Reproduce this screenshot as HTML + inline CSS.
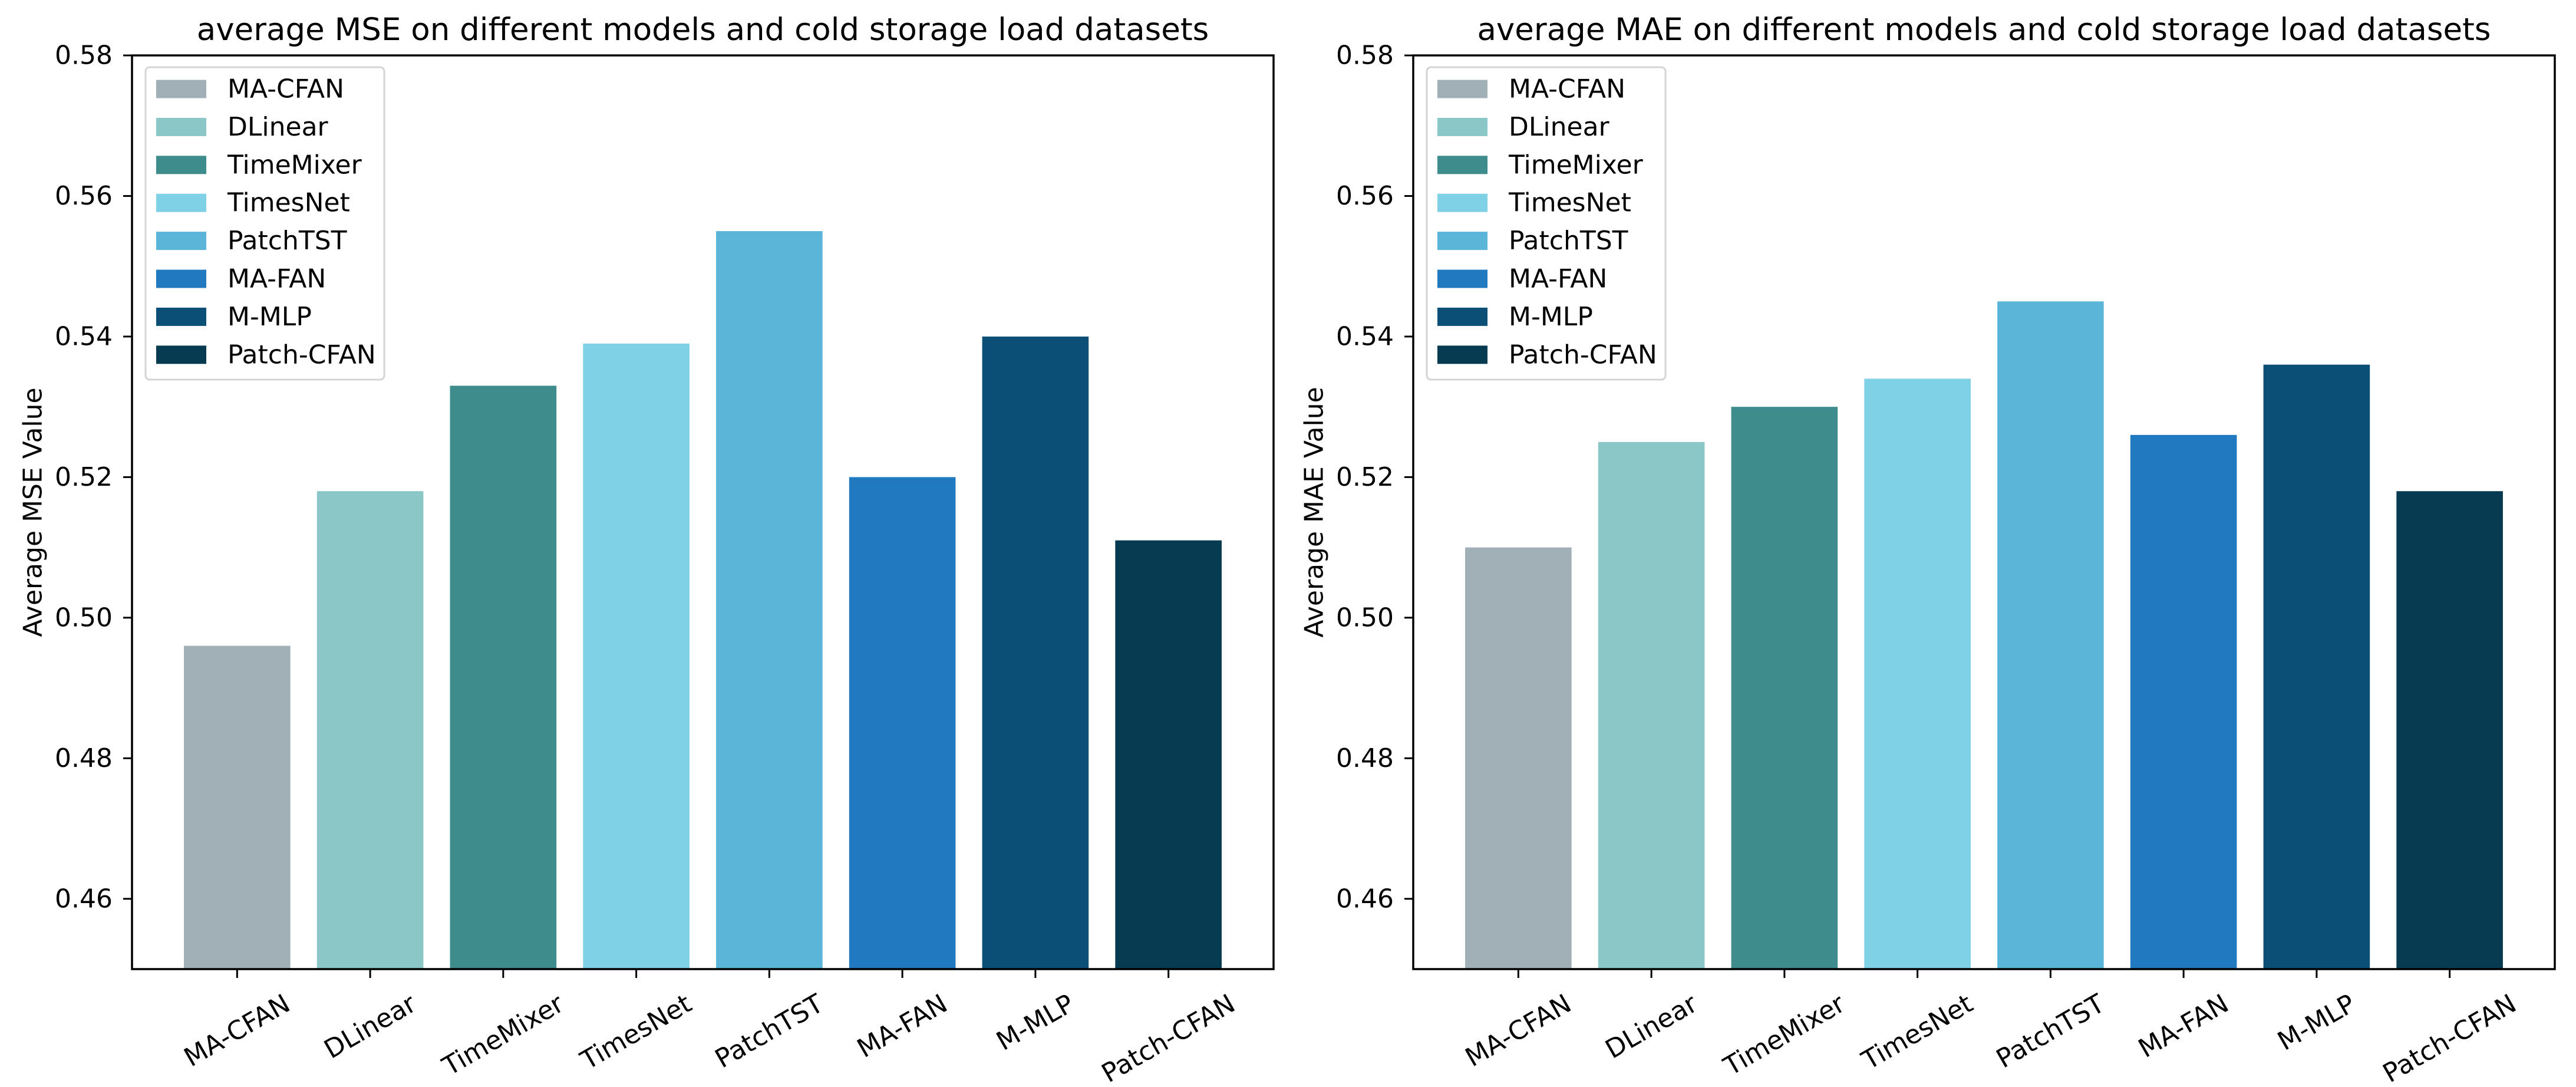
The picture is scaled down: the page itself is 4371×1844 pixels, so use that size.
<!DOCTYPE html>
<html><head><meta charset="utf-8"><style>
html,body{margin:0;padding:0;background:#fff;}
svg{display:block;font-family:"DejaVu Sans","Liberation Sans",sans-serif;}
</style></head><body>
<svg id="fig" width="4371" height="1844" viewBox="0 0 4371 1844" xmlns="http://www.w3.org/2000/svg">
<rect width="4371" height="1844" fill="#fff"/>
</svg>
<script>
const categories = ["MA-CFAN","DLinear","TimeMixer","TimesNet","PatchTST","MA-FAN","M-MLP","Patch-CFAN"];
const mseValues = [0.496,0.518,0.533,0.539,0.555,0.520,0.540,0.511];
const maeValues = [0.510,0.525,0.530,0.534,0.545,0.526,0.536,0.518];
const barColors = ["#a1b0b7","#8cc7c8","#3f8c8c","#7fd1e6","#5bb5d9","#217abf","#0b4f76","#073b51"];
const yTicks = [0.46,0.48,0.50,0.52,0.54,0.56,0.58];
const yMin = 0.45, yMax = 0.58;

const NS = "http://www.w3.org/2000/svg";
const svg = document.getElementById("fig");
function mk(tag, attrs, parent){const e=document.createElementNS(NS,tag);for(const k in attrs)e.setAttribute(k,attrs[k]);(parent||svg).appendChild(e);return e;}

function drawPanel(offset, values, title, ylabel, key){
  const L=224+offset, R=2161+offset, T=94, B=1644;
  const g = mk("g",{});
  
  
  const n = categories.length;
  const lo = -0.4 - 0.05*(n-0.2), hi = n-1+0.4 + 0.05*(n-0.2);
  const xs = i => L + (i - lo)/(hi-lo)*(R-L);
  const ys = v => B - (v - yMin)/(yMax-yMin)*(B-T);
  const bw = 0.8/(hi-lo)*(R-L);
  // bars
  values.forEach((v,i)=>{
    const r = mk("rect",{x:xs(i)-bw/2,y:ys(v),width:bw,height:B-ys(v),fill:barColors[i]},g);
    
    
  });
  // spines
  const frame = mk("rect",{x:L,y:T,width:R-L,height:B-T,fill:"none",stroke:"#000","stroke-width":3.5},g);
  
  
  // y ticks
  yTicks.forEach(t=>{
    const y=ys(t);
    mk("line",{x1:L-15,x2:L,y1:y,y2:y,stroke:"#000","stroke-width":3},g);
    const tx = mk("text",{x:L-33,y:y,"text-anchor":"end","dominant-baseline":"central","font-size":44},g);
    tx.textContent = t.toFixed(2);
    
    
  });
  // x ticks
  categories.forEach((c,i)=>{
    const x=xs(i);
    mk("line",{x1:x,x2:x,y1:B,y2:B+15,stroke:"#000","stroke-width":3},g);
    const grp = mk("g",{},g);
    const tx = mk("text",{x:0,y:0,"text-anchor":"middle","dominant-baseline":"central","font-size":44,transform:"rotate(-30)"},grp);
    tx.textContent = c;
    
    
    const ang=Math.PI/6, w=tx.getComputedTextLength(), h=44;
    const bh = w*Math.sin(ang)+h*Math.cos(ang);
    grp.setAttribute("transform","translate("+x+","+(1680+bh/2)+")");
  });
  // title
  const tt = mk("text",{x:(L+R)/2,y:68,"text-anchor":"middle","font-size":53},g);
  tt.textContent = title;
  
  
  // y label
  const yl = mk("text",{x:0,y:0,"text-anchor":"middle","dominant-baseline":"central","font-size":44,transform:"translate("+(56+offset)+","+((T+B)/2)+") rotate(-90)"},g);
  yl.textContent = ylabel;
  
  
  // legend
  const lg = mk("g",{},g);
  
  
  mk("rect",{x:247+offset,y:114,width:405,height:530,rx:7,fill:"#fff","fill-opacity":0.8,stroke:"#d4d4d4","stroke-width":3},lg);
  categories.forEach((c,i)=>{
    const cy = 151 + i*64.4;
    const e = mk("g",{},lg);
    
    
    mk("rect",{x:265+offset,y:cy-15.5,width:85,height:31,fill:barColors[i]},e);
    const t = mk("text",{x:386+offset,y:cy,"dominant-baseline":"central","font-size":44},e);
    t.textContent = c;
  });
}
drawPanel(0, mseValues, "average MSE on different models and cold storage load datasets", "Average MSE Value", "mse");
drawPanel(2174, maeValues, "average MAE on different models and cold storage load datasets", "Average MAE Value", "mae");
</script>
</body></html>
